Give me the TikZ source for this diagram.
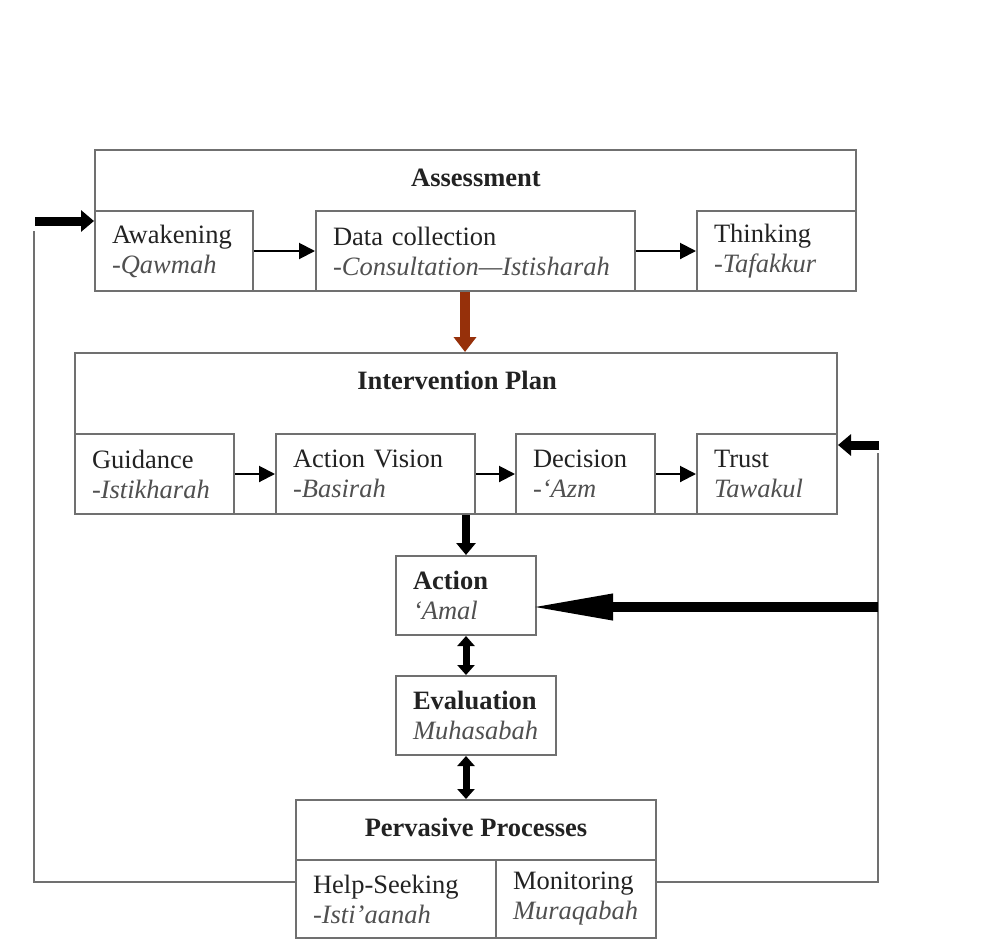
\documentclass[tikz,border=0pt]{standalone}
\usepackage{fontspec}
\setmainfont{Liberation Serif}
\usetikzlibrary{arrows.meta}
\definecolor{boxline}{RGB}{112,112,112}
\definecolor{txt}{RGB}{34,34,34}
\definecolor{itx}{RGB}{80,80,80}
\definecolor{brownarrow}{RGB}{150,48,10}
\newcommand{\ittext}[1]{{\itshape\color{itx}#1}}
\tikzset{
  box/.style={draw=boxline, line width=2pt, rectangle, inner sep=0pt},
  subbox/.style={box, inner xsep=17pt, inner ysep=0pt, align=left, text=txt,
    font=\fontsize{26.5}{30}\selectfont},
  titletext/.style={font=\fontsize{26.5}{30}\selectfont\bfseries, text=txt, inner sep=0pt},
  smallarrow/.style={draw=black, line width=2pt, -{Triangle[length=16pt,width=16pt]}},
  fatarrow/.style={draw=black, line width=9pt, -{Triangle[length=13pt,width=21pt]}},
  doublearrow/.style={draw=black, line width=7pt, {Triangle[length=10pt,width=17pt]}-{Triangle[length=10pt,width=17pt]}},
  feedline/.style={draw=boxline, line width=2pt},
}
\begin{document}
\begin{tikzpicture}[x=1pt,y=-1pt]
\fill[white] (0,0) rectangle (1006,940);
\useasboundingbox (0,0) rectangle (1006,940);

% Assessment
\node[box, minimum width=761pt, minimum height=141pt] (as) at (475.5,220.5) {};
\node[titletext] (astitle) at (476,178) {Assessment};
\node[subbox, text width=124pt, minimum height=80pt] (aw) at (174,251) {Awakening\\\ittext{-Qawmah}};
\node[subbox, text width=285pt, minimum height=80pt] (dc) at (475.5,251) {Data collection\\\ittext{-Consultation—Istisharah}};
\node[subbox, text width=125pt, minimum height=80pt] (th) at (776.5,251) {Thinking\\\ittext{-Tafakkur}};
\draw[smallarrow] (aw.east) -- (dc.west);
\draw[smallarrow] (dc.east) -- (th.west);

% Intervention plan
\node[box, minimum width=762pt, minimum height=161pt] (ip) at (456,433.5) {};
\node[titletext] (iptitle) at (457,380) {Intervention Plan};
\node[subbox, text width=125pt, minimum height=80pt] (gd) at (154.5,474) {Guidance\\\ittext{-Istikharah}};
\node[subbox, text width=165pt, minimum height=80pt] (av) at (375.5,474) {Action Vision\\\ittext{-Basirah}};
\node[subbox, text width=105pt, minimum height=80pt] (de) at (585.5,474) {Decision\\\ittext{-‘Azm}};
\node[subbox, text width=106pt, minimum height=80pt] (tr) at (767,474) {Trust\\\ittext{Tawakul}};
\draw[smallarrow] (gd.east) -- (av.west);
\draw[smallarrow] (av.east) -- (de.west);
\draw[smallarrow] (de.east) -- (tr.west);

% brown arrow
\coordinate (ax) at (465,0);
\draw[draw=brownarrow, line width=10pt, -{Triangle[length=15pt,width=22pt]}] (dc.south -| ax) -- (ip.north -| ax);

% Action, Evaluation
\node[subbox, text width=106pt, minimum height=79pt] (act) at (466,595.5) {\textbf{Action}\\\ittext{‘Amal}};
\node[subbox, text width=126pt, minimum height=79pt] (ev) at (476,715.5) {\textbf{Evaluation}\\\ittext{Muhasabah}};
\draw[draw=black, line width=8pt, -{Triangle[length=12pt,width=19pt]}] (ip.south -| act.north) -- (act.north);
\draw[doublearrow] (act.south) -- (act.south |- ev.north);

% Pervasive processes
\node[box, minimum width=360pt, minimum height=138pt] (pp) at (476,869) {};
\node[titletext] (pptitle) at (476,827) {Pervasive Processes};
\node[subbox, text width=166pt, minimum height=78pt] (hs) at (396,899) {Help-Seeking\\\ittext{-Isti’aanah}};
\node[subbox, text width=126pt, minimum height=78pt] (mo) at (576,899) {Monitoring\\\ittext{Muraqabah}};
\draw[doublearrow] (ev.south -| act.south) -- (pp.north -| act.south);

% left feedback
\coordinate (lin) at (35,221);
\coordinate (ltop) at (34,231);
\coordinate (lbot) at (34,882);
\draw[fatarrow] (lin) -- (lin -| aw.west);
\draw[feedline] (hs.west |- lbot) -- (lbot) -- (ltop);

% right feedback
\coordinate (rin) at (879,445);
\coordinate (rtop) at (878,453);
\coordinate (rbot) at (878,882);
\draw[fatarrow] (rin) -- (rin -| tr.east);
\draw[feedline] (mo.east |- rbot) -- (rbot) -- (rtop);

% big arrow into Action
\coordinate (bin) at (878,607);
\draw[draw=black, line width=10pt, shorten >=-8pt, -{Triangle[length=84pt,width=24pt]}] (bin) -- (bin -| act.east);
\end{tikzpicture}
\end{document}
